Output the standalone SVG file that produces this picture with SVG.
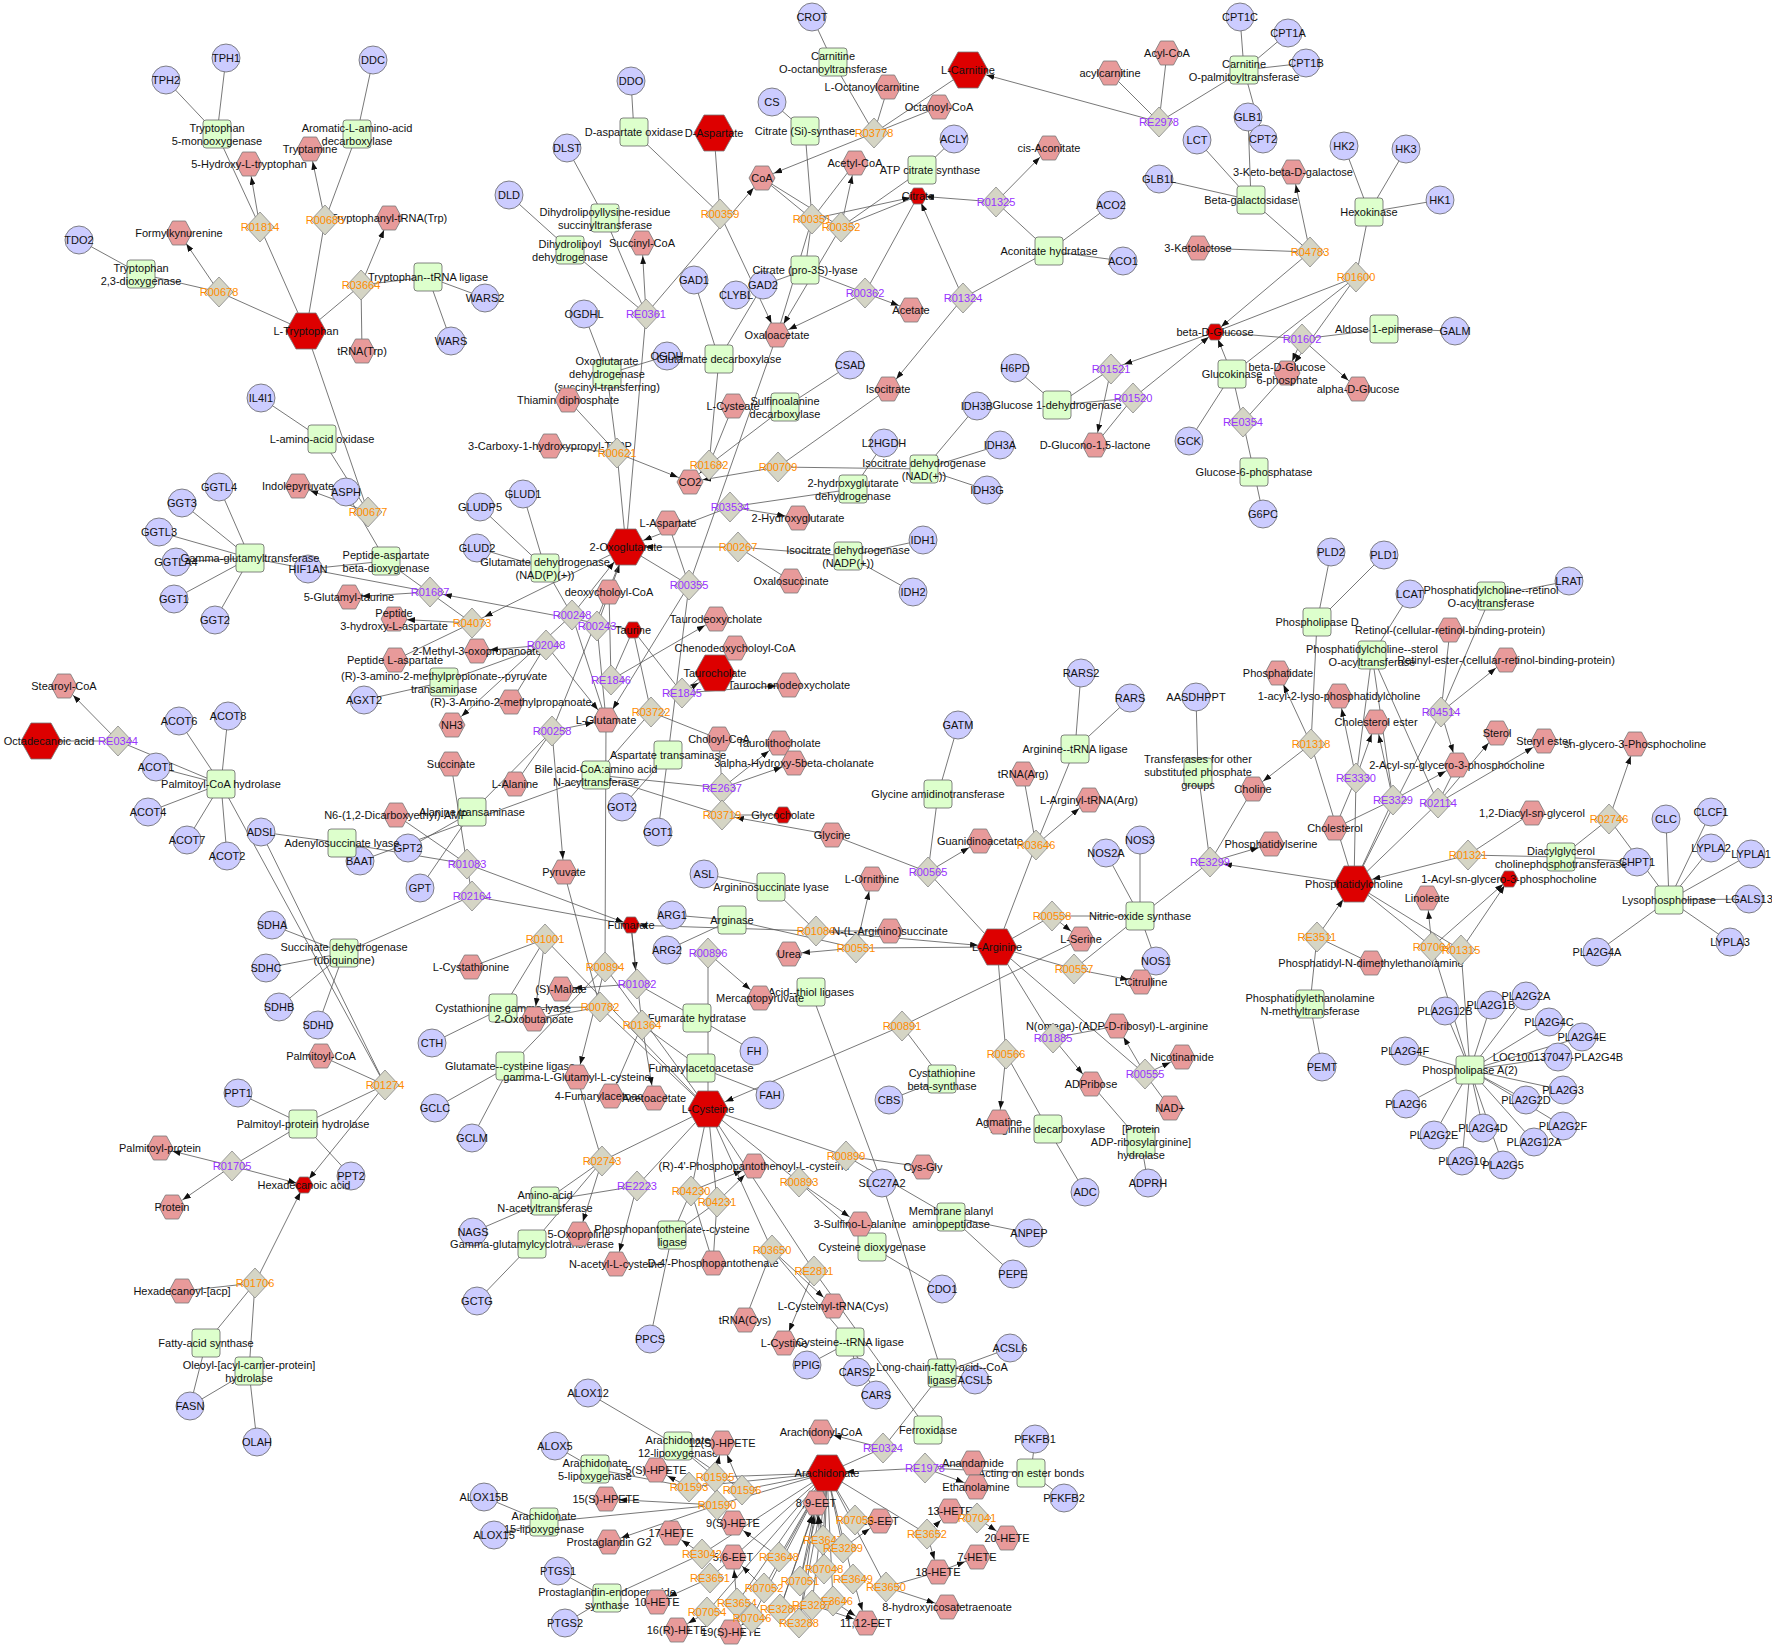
<svg xmlns="http://www.w3.org/2000/svg" xmlns:xlink="http://www.w3.org/1999/xlink" width="1772" height="1648" viewBox="0 0 1772 1648">
<style>
text{font-family:"Liberation Sans",Arial,sans-serif;font-size:11px;fill:#111;text-anchor:middle;dominant-baseline:central}
.ro{fill:#ff8c00}.rp{fill:#9933ff}
#E line{stroke:#555;stroke-width:0.8}
.a{marker-end:url(#ma)}.b{marker-end:url(#mb)}.c{marker-end:url(#mc)}.d{marker-end:url(#md)}
</style>
<defs>
<marker id="ma" markerUnits="userSpaceOnUse" markerWidth="8" markerHeight="6" refX="21" refY="3" orient="auto"><path d="M0,0L8,3L0,6z" fill="#111"/></marker>
<marker id="mb" markerUnits="userSpaceOnUse" markerWidth="8" markerHeight="6" refX="27" refY="3" orient="auto"><path d="M0,0L8,3L0,6z" fill="#111"/></marker>
<marker id="mc" markerUnits="userSpaceOnUse" markerWidth="8" markerHeight="6" refX="16" refY="3" orient="auto"><path d="M0,0L8,3L0,6z" fill="#111"/></marker>
<marker id="md" markerUnits="userSpaceOnUse" markerWidth="8" markerHeight="6" refX="22" refY="3" orient="auto"><path d="M0,0L8,3L0,6z" fill="#111"/></marker>
<circle id="g" r="14" fill="#ccccff" stroke="#666" stroke-width="0.8"/>
<rect id="e" x="-14" y="-14" width="28" height="28" rx="3" fill="#ddffcc" stroke="#666" stroke-width="0.8"/>
<polygon id="m" points="-13,0 -6.5,-12 6.5,-12 13,0 6.5,12 -6.5,12" fill="#e89a9a" stroke="#777" stroke-width="0.8"/>
<polygon id="B" points="-20,0 -10,-18 10,-18 20,0 10,18 -10,18" fill="#dd0000" stroke="#777" stroke-width="0.8"/>
<polygon id="t" points="-9,0 -4.5,-8 4.5,-8 9,0 4.5,8 -4.5,8" fill="#dd0000" stroke="#777" stroke-width="0.8"/>
<polygon id="r" points="0,-15 14,0 0,15 -14,0" fill="#d5d5c5" stroke="#888" stroke-width="0.8"/>
</defs>
<rect width="1772" height="1648" fill="#fff"/>
<g id="E">
<line x1="226" y1="58" x2="217" y2="134"/><line x1="166" y1="80" x2="217" y2="134"/><line x1="217" y1="134" x2="260" y2="227"/><line class="a" x1="260" y1="227" x2="249" y2="164"/><line x1="306" y1="331" x2="260" y2="227"/>
<line x1="373" y1="60" x2="357" y2="134"/><line x1="357" y1="134" x2="325" y2="220"/><line class="a" x1="325" y1="220" x2="310" y2="149"/><line x1="306" y1="331" x2="325" y2="220"/>
<line x1="79" y1="240" x2="141" y2="274"/><line x1="141" y1="274" x2="219" y2="292"/><line class="a" x1="219" y1="292" x2="179" y2="233"/><line x1="306" y1="331" x2="219" y2="292"/>
<line x1="306" y1="331" x2="361" y2="285"/><line x1="485" y1="298" x2="428" y2="277"/><line x1="451" y1="341" x2="428" y2="277"/><line x1="428" y1="277" x2="361" y2="285"/><line class="a" x1="361" y1="285" x2="389" y2="218"/><line x1="362" y1="351" x2="361" y2="285"/>
<line x1="306" y1="331" x2="368" y2="512"/><line x1="261" y1="398" x2="322" y2="439"/><line x1="322" y1="439" x2="368" y2="512"/><line class="a" x1="368" y1="512" x2="298" y2="486"/>
<line x1="346" y1="492" x2="386" y2="561"/><line x1="308" y1="569" x2="386" y2="561"/><line x1="386" y1="561" x2="472" y2="623"/><line class="a" x1="472" y1="623" x2="394" y2="619"/><line x1="395" y1="660" x2="472" y2="623"/><line class="d" x1="626" y1="547" x2="472" y2="623"/>
<line x1="219" y1="487" x2="250" y2="558"/><line x1="182" y1="503" x2="250" y2="558"/><line x1="159" y1="532" x2="250" y2="558"/><line x1="176" y1="562" x2="250" y2="558"/><line x1="174" y1="599" x2="250" y2="558"/><line x1="215" y1="620" x2="250" y2="558"/>
<line x1="250" y1="558" x2="430" y2="592"/><line class="a" x1="430" y1="592" x2="349" y2="597"/><line class="d" x1="633" y1="630" x2="430" y2="592"/>
<line class="a" x1="546" y1="645" x2="477" y2="651"/><line x1="511" y1="702" x2="546" y2="645"/><line x1="444" y1="682" x2="546" y2="645"/><line x1="364" y1="700" x2="444" y2="682"/><line class="a" x1="546" y1="645" x2="606" y2="720"/>
<line x1="480" y1="507" x2="545" y2="568"/><line x1="523" y1="494" x2="545" y2="568"/><line x1="477" y1="548" x2="545" y2="568"/><line x1="545" y1="568" x2="572" y2="615"/><line class="b" x1="572" y1="615" x2="626" y2="547"/><line class="a" x1="572" y1="615" x2="452" y2="725"/><line x1="606" y1="720" x2="572" y2="615"/>
<line class="b" x1="597" y1="626" x2="626" y2="547"/><line x1="606" y1="720" x2="597" y2="626"/>
<line x1="633" y1="630" x2="611" y2="680"/><line x1="609" y1="592" x2="611" y2="680"/><line class="a" x1="611" y1="680" x2="716" y2="619"/>
<line x1="633" y1="630" x2="682" y2="693"/><line class="b" x1="682" y1="693" x2="715" y2="673"/><line class="a" x1="682" y1="693" x2="789" y2="685"/><line x1="735" y1="648" x2="682" y2="693"/>
<line x1="633" y1="630" x2="651" y2="712"/><line x1="719" y1="739" x2="651" y2="712"/><line x1="596" y1="775" x2="651" y2="712"/>
<line x1="719" y1="739" x2="722" y2="788"/><line class="a" x1="722" y1="788" x2="779" y2="743"/><line class="a" x1="722" y1="788" x2="794" y2="763"/><line x1="596" y1="775" x2="722" y2="788"/>
<line x1="596" y1="775" x2="722" y2="815"/><line x1="783" y1="815" x2="722" y2="815"/><line class="d" x1="832" y1="835" x2="722" y2="815"/>
<line x1="626" y1="547" x2="689" y2="585"/><line x1="668" y1="523" x2="689" y2="585"/><line x1="668" y1="755" x2="689" y2="585"/><line x1="777" y1="335" x2="689" y2="585"/><line class="a" x1="689" y1="585" x2="606" y2="720"/>
<line x1="622" y1="807" x2="668" y2="755"/><line x1="658" y1="832" x2="668" y2="755"/>
<line x1="848" y1="556" x2="738" y2="547"/><line class="b" x1="738" y1="547" x2="626" y2="547"/><line x1="791" y1="581" x2="738" y2="547"/><line x1="923" y1="540" x2="848" y2="556"/><line x1="913" y1="592" x2="848" y2="556"/>
<line class="a" x1="730" y1="507" x2="798" y2="518"/><line x1="853" y1="489" x2="730" y2="507"/><line class="b" x1="730" y1="507" x2="626" y2="547"/><line x1="884" y1="443" x2="853" y2="489"/>
<line x1="924" y1="469" x2="778" y2="467"/><line class="a" x1="778" y1="467" x2="690" y2="482"/><line x1="888" y1="389" x2="778" y2="467"/>
<line x1="977" y1="406" x2="924" y2="469"/><line x1="1000" y1="445" x2="924" y2="469"/><line x1="987" y1="490" x2="924" y2="469"/>
<line x1="785" y1="407" x2="709" y2="465"/><line x1="733" y1="406" x2="709" y2="465"/><line class="a" x1="709" y1="465" x2="690" y2="482"/><line x1="850" y1="365" x2="785" y2="407"/><line x1="719" y1="359" x2="709" y2="465"/>
<line x1="568" y1="400" x2="617" y2="453"/><line x1="550" y1="446" x2="617" y2="453"/><line class="a" x1="617" y1="453" x2="690" y2="482"/><line x1="607" y1="374" x2="617" y2="453"/><line x1="626" y1="547" x2="617" y2="453"/>
<line x1="584" y1="314" x2="607" y2="374"/><line x1="667" y1="356" x2="607" y2="374"/>
<line x1="567" y1="148" x2="605" y2="218"/><line x1="509" y1="195" x2="570" y2="250"/><line x1="570" y1="250" x2="646" y2="314"/><line x1="605" y1="218" x2="646" y2="314"/><line class="a" x1="646" y1="314" x2="642" y2="243"/><line class="a" x1="646" y1="314" x2="762" y2="178"/><line x1="626" y1="547" x2="646" y2="314"/>
<line x1="631" y1="81" x2="634" y2="132"/><line x1="634" y1="132" x2="720" y2="214"/><line x1="714" y1="133" x2="720" y2="214"/><line class="a" x1="720" y1="214" x2="777" y2="335"/>
<line x1="772" y1="102" x2="805" y2="131"/><line x1="805" y1="131" x2="812" y2="219"/><line x1="762" y1="178" x2="812" y2="219"/><line x1="855" y1="163" x2="812" y2="219"/><line x1="777" y1="335" x2="812" y2="219"/><line class="c" x1="812" y1="219" x2="918" y2="196"/>
<line x1="922" y1="170" x2="841" y2="227"/><line x1="954" y1="139" x2="922" y2="170"/><line class="a" x1="841" y1="227" x2="855" y2="163"/><line class="a" x1="841" y1="227" x2="777" y2="335"/><line x1="918" y1="196" x2="841" y2="227"/><line x1="762" y1="178" x2="841" y2="227"/>
<line x1="805" y1="270" x2="865" y2="293"/><line x1="918" y1="196" x2="865" y2="293"/><line class="a" x1="865" y1="293" x2="911" y2="310"/><line class="a" x1="865" y1="293" x2="777" y2="335"/><line x1="736" y1="295" x2="805" y2="270"/><line x1="805" y1="270" x2="812" y2="219"/>
<line x1="694" y1="280" x2="719" y2="359"/><line x1="763" y1="285" x2="719" y2="359"/>
<line class="c" x1="996" y1="202" x2="918" y2="196"/><line class="a" x1="996" y1="202" x2="1049" y2="148"/><line x1="1049" y1="251" x2="996" y2="202"/>
<line x1="1049" y1="251" x2="963" y2="298"/><line class="c" x1="963" y1="298" x2="918" y2="196"/><line class="a" x1="963" y1="298" x2="888" y2="389"/><line x1="1111" y1="205" x2="1049" y2="251"/><line x1="1123" y1="261" x2="1049" y2="251"/>
<line x1="833" y1="62" x2="874" y2="133"/><line x1="812" y1="17" x2="833" y2="62"/><line x1="968" y1="70" x2="874" y2="133"/><line class="a" x1="874" y1="133" x2="762" y2="178"/><line x1="888" y1="87" x2="874" y2="133"/><line x1="939" y1="107" x2="874" y2="133"/>
<line class="b" x1="1159" y1="122" x2="968" y2="70"/><line x1="1110" y1="73" x2="1159" y2="122"/><line x1="1167" y1="53" x2="1159" y2="122"/><line x1="1244" y1="70" x2="1159" y2="122"/>
<line x1="1240" y1="17" x2="1244" y2="70"/><line x1="1288" y1="33" x2="1244" y2="70"/><line x1="1306" y1="63" x2="1244" y2="70"/><line x1="1263" y1="139" x2="1244" y2="70"/>
<line x1="1248" y1="117" x2="1251" y2="200"/><line x1="1197" y1="140" x2="1251" y2="200"/><line x1="1159" y1="179" x2="1251" y2="200"/>
<line x1="1251" y1="200" x2="1310" y2="252"/><line class="a" x1="1310" y1="252" x2="1293" y2="172"/><line x1="1198" y1="248" x2="1310" y2="252"/><line class="c" x1="1310" y1="252" x2="1215" y2="332"/>
<line x1="1344" y1="146" x2="1369" y2="212"/><line x1="1406" y1="149" x2="1369" y2="212"/><line x1="1440" y1="200" x2="1369" y2="212"/>
<line x1="1369" y1="212" x2="1356" y2="277"/><line x1="1215" y1="332" x2="1356" y2="277"/><line class="a" x1="1356" y1="277" x2="1287" y2="373"/><line x1="1232" y1="374" x2="1356" y2="277"/>
<line x1="1215" y1="332" x2="1302" y2="339"/><line class="a" x1="1302" y1="339" x2="1358" y2="389"/><line x1="1384" y1="329" x2="1302" y2="339"/><line x1="1455" y1="331" x2="1384" y2="329"/><line class="a" x1="1302" y1="339" x2="1287" y2="373"/>
<line x1="1057" y1="405" x2="1111" y2="369"/><line x1="1015" y1="368" x2="1057" y2="405"/><line class="d" x1="1215" y1="332" x2="1111" y2="369"/><line class="a" x1="1111" y1="369" x2="1095" y2="445"/>
<line x1="1057" y1="405" x2="1133" y2="398"/><line class="c" x1="1133" y1="398" x2="1215" y2="332"/><line x1="1095" y1="445" x2="1133" y2="398"/>
<line x1="1232" y1="374" x2="1243" y2="422"/><line x1="1254" y1="472" x2="1243" y2="422"/><line x1="1287" y1="373" x2="1243" y2="422"/><line x1="1263" y1="514" x2="1254" y2="472"/><line x1="1189" y1="441" x2="1232" y2="374"/><line class="c" x1="1232" y1="374" x2="1215" y2="332"/>
<line x1="1331" y1="552" x2="1317" y2="622"/><line x1="1384" y1="555" x2="1317" y2="622"/><line x1="1317" y1="622" x2="1311" y2="744"/><line class="a" x1="1311" y1="744" x2="1278" y2="673"/><line class="a" x1="1311" y1="744" x2="1253" y2="789"/><line x1="1354" y1="884" x2="1311" y2="744"/>
<line x1="1410" y1="594" x2="1372" y2="655"/><line x1="1372" y1="655" x2="1356" y2="778"/><line x1="1372" y1="655" x2="1393" y2="800"/><line x1="1372" y1="655" x2="1438" y2="803"/>
<line x1="1569" y1="581" x2="1491" y2="596"/><line x1="1491" y1="596" x2="1441" y2="712"/>
<line x1="1450" y1="630" x2="1441" y2="712"/><line class="a" x1="1441" y1="712" x2="1506" y2="660"/><line class="a" x1="1441" y1="712" x2="1457" y2="765"/><line x1="1354" y1="884" x2="1441" y2="712"/>
<line class="a" x1="1356" y1="778" x2="1339" y2="696"/><line class="a" x1="1356" y1="778" x2="1376" y2="722"/><line x1="1335" y1="828" x2="1356" y2="778"/><line x1="1354" y1="884" x2="1356" y2="778"/>
<line x1="1335" y1="828" x2="1393" y2="800"/><line class="a" x1="1393" y1="800" x2="1376" y2="722"/><line class="a" x1="1393" y1="800" x2="1457" y2="765"/><line x1="1354" y1="884" x2="1393" y2="800"/>
<line x1="1457" y1="765" x2="1438" y2="803"/><line class="a" x1="1438" y1="803" x2="1497" y2="733"/><line class="a" x1="1438" y1="803" x2="1544" y2="741"/><line x1="1354" y1="884" x2="1438" y2="803"/>
<line class="a" x1="1609" y1="819" x2="1635" y2="744"/><line x1="1561" y1="857" x2="1609" y2="819"/><line x1="1669" y1="900" x2="1609" y2="819"/>
<line class="b" x1="1468" y1="855" x2="1354" y2="884"/><line x1="1532" y1="813" x2="1468" y2="855"/><line x1="1561" y1="857" x2="1468" y2="855"/><line x1="1637" y1="862" x2="1561" y2="857"/>
<line x1="1666" y1="819" x2="1669" y2="900"/><line x1="1711" y1="812" x2="1669" y2="900"/><line x1="1711" y1="848" x2="1669" y2="900"/><line x1="1751" y1="854" x2="1669" y2="900"/><line x1="1749" y1="899" x2="1669" y2="900"/><line x1="1730" y1="942" x2="1669" y2="900"/><line x1="1597" y1="952" x2="1669" y2="900"/>
<line class="a" x1="1210" y1="862" x2="1271" y2="844"/><line class="d" x1="1354" y1="884" x2="1210" y2="862"/><line x1="1253" y1="789" x2="1210" y2="862"/><line x1="1198" y1="772" x2="1210" y2="862"/><line x1="1196" y1="697" x2="1198" y2="772"/><line x1="1140" y1="916" x2="1210" y2="862"/>
<line class="b" x1="1317" y1="937" x2="1354" y2="884"/><line x1="1371" y1="963" x2="1317" y2="937"/><line x1="1310" y1="1004" x2="1317" y2="937"/><line x1="1322" y1="1067" x2="1310" y2="1004"/>
<line x1="1354" y1="884" x2="1432" y2="947"/><line class="a" x1="1432" y1="947" x2="1427" y2="898"/><line class="c" x1="1432" y1="947" x2="1509" y2="879"/><line x1="1470" y1="1070" x2="1432" y2="947"/>
<line x1="1354" y1="884" x2="1461" y2="950"/><line class="c" x1="1461" y1="950" x2="1509" y2="879"/><line x1="1470" y1="1070" x2="1461" y2="950"/>
<line x1="1445" y1="1011" x2="1470" y2="1070"/><line x1="1491" y1="1005" x2="1470" y2="1070"/><line x1="1526" y1="996" x2="1470" y2="1070"/><line x1="1549" y1="1022" x2="1470" y2="1070"/><line x1="1582" y1="1037" x2="1470" y2="1070"/><line x1="1558" y1="1057" x2="1470" y2="1070"/><line x1="1405" y1="1051" x2="1470" y2="1070"/><line x1="1563" y1="1090" x2="1470" y2="1070"/><line x1="1526" y1="1100" x2="1470" y2="1070"/><line x1="1406" y1="1104" x2="1470" y2="1070"/><line x1="1563" y1="1126" x2="1470" y2="1070"/><line x1="1434" y1="1135" x2="1470" y2="1070"/><line x1="1483" y1="1128" x2="1470" y2="1070"/><line x1="1534" y1="1142" x2="1470" y2="1070"/><line x1="1462" y1="1161" x2="1470" y2="1070"/><line x1="1503" y1="1165" x2="1470" y2="1070"/>
<line x1="997" y1="947" x2="928" y2="872"/><line class="a" x1="928" y1="872" x2="980" y2="841"/><line x1="832" y1="835" x2="928" y2="872"/><line x1="938" y1="794" x2="928" y2="872"/><line x1="958" y1="725" x2="938" y2="794"/>
<line x1="997" y1="947" x2="1036" y2="845"/><line x1="1075" y1="749" x2="1036" y2="845"/><line x1="1081" y1="673" x2="1075" y2="749"/><line x1="1130" y1="698" x2="1075" y2="749"/><line x1="1023" y1="774" x2="1036" y2="845"/><line class="a" x1="1036" y1="845" x2="1089" y2="800"/>
<line x1="997" y1="947" x2="1052" y2="916"/><line x1="1140" y1="916" x2="1052" y2="916"/><line class="a" x1="1052" y1="916" x2="1081" y2="939"/>
<line x1="997" y1="947" x2="1074" y2="969"/><line x1="1140" y1="916" x2="1074" y2="969"/><line class="a" x1="1074" y1="969" x2="1141" y2="982"/>
<line x1="1106" y1="853" x2="1140" y2="916"/><line x1="1140" y1="840" x2="1140" y2="916"/><line x1="1156" y1="961" x2="1140" y2="916"/>
<line x1="1081" y1="939" x2="902" y2="1026"/><line x1="942" y1="1079" x2="902" y2="1026"/><line class="b" x1="902" y1="1026" x2="708" y2="1109"/><line x1="889" y1="1100" x2="942" y2="1079"/>
<line x1="771" y1="887" x2="816" y2="931"/><line x1="704" y1="874" x2="771" y2="887"/><line class="c" x1="816" y1="931" x2="631" y2="925"/><line x1="890" y1="931" x2="816" y2="931"/><line class="b" x1="816" y1="931" x2="997" y2="947"/>
<line x1="732" y1="920" x2="856" y2="948"/><line x1="672" y1="915" x2="732" y2="920"/><line x1="667" y1="950" x2="732" y2="920"/><line x1="997" y1="947" x2="856" y2="948"/><line class="a" x1="856" y1="948" x2="789" y2="954"/><line class="a" x1="856" y1="948" x2="872" y2="879"/>
<line x1="997" y1="947" x2="1006" y2="1054"/><line class="a" x1="1006" y1="1054" x2="999" y2="1122"/><line x1="1048" y1="1129" x2="1006" y2="1054"/><line x1="1085" y1="1192" x2="1048" y2="1129"/>
<line x1="997" y1="947" x2="1053" y2="1038"/><line x1="1117" y1="1026" x2="1053" y2="1038"/><line class="a" x1="1053" y1="1038" x2="1091" y2="1084"/><line x1="1091" y1="1084" x2="1141" y2="1142"/><line x1="1148" y1="1183" x2="1141" y2="1142"/>
<line x1="997" y1="947" x2="1145" y2="1074"/><line class="a" x1="1145" y1="1074" x2="1117" y2="1026"/><line class="a" x1="1145" y1="1074" x2="1182" y2="1057"/><line x1="1170" y1="1108" x2="1145" y2="1074"/>
<line x1="708" y1="1109" x2="708" y2="953"/><line class="a" x1="708" y1="953" x2="760" y2="998"/>
<line class="d" x1="631" y1="925" x2="637" y2="984"/><line class="a" x1="637" y1="984" x2="561" y2="989"/><line x1="697" y1="1018" x2="637" y2="984"/><line x1="754" y1="1051" x2="697" y2="1018"/>
<line x1="631" y1="925" x2="472" y2="896"/><line x1="344" y1="953" x2="472" y2="896"/><line x1="451" y1="764" x2="472" y2="896"/>
<line x1="272" y1="925" x2="344" y2="953"/><line x1="266" y1="968" x2="344" y2="953"/><line x1="279" y1="1007" x2="344" y2="953"/><line x1="318" y1="1025" x2="344" y2="953"/>
<line x1="342" y1="843" x2="467" y2="864"/><line class="c" x1="467" y1="864" x2="631" y2="925"/><line x1="396" y1="815" x2="467" y2="864"/><line x1="261" y1="832" x2="342" y2="843"/>
<line x1="360" y1="861" x2="596" y2="775"/><line x1="408" y1="848" x2="472" y2="812"/><line x1="420" y1="888" x2="472" y2="812"/>
<line x1="472" y1="812" x2="552" y2="731"/><line class="a" x1="552" y1="731" x2="564" y2="872"/><line class="a" x1="552" y1="731" x2="606" y2="720"/><line x1="515" y1="784" x2="552" y2="731"/><line x1="626" y1="547" x2="552" y2="731"/>
<line x1="606" y1="720" x2="605" y2="967"/><line x1="510" y1="1066" x2="605" y2="967"/><line class="a" x1="605" y1="967" x2="577" y2="1077"/><line x1="708" y1="1109" x2="605" y2="967"/>
<line x1="503" y1="1008" x2="600" y2="1007"/><line x1="534" y1="1019" x2="600" y2="1007"/><line x1="708" y1="1109" x2="600" y2="1007"/><line x1="564" y1="872" x2="600" y2="1007"/>
<line x1="471" y1="967" x2="545" y2="939"/><line x1="503" y1="1008" x2="545" y2="939"/><line class="a" x1="545" y1="939" x2="534" y2="1019"/><line x1="708" y1="1109" x2="545" y2="939"/>
<line x1="701" y1="1068" x2="642" y2="1025"/><line x1="611" y1="1096" x2="642" y2="1025"/><line class="a" x1="642" y1="1025" x2="654" y2="1098"/><line x1="631" y1="925" x2="642" y2="1025"/>
<line x1="432" y1="1043" x2="503" y2="1008"/><line x1="435" y1="1108" x2="510" y2="1066"/><line x1="472" y1="1138" x2="510" y2="1066"/><line x1="770" y1="1095" x2="701" y2="1068"/>
<line x1="708" y1="1109" x2="602" y2="1161"/><line x1="545" y1="1201" x2="602" y2="1161"/><line class="a" x1="602" y1="1161" x2="579" y2="1234"/><line x1="532" y1="1244" x2="602" y2="1161"/><line x1="577" y1="1077" x2="602" y2="1161"/>
<line x1="708" y1="1109" x2="637" y2="1186"/><line x1="545" y1="1201" x2="637" y2="1186"/><line class="a" x1="637" y1="1186" x2="616" y2="1264"/>
<line x1="473" y1="1232" x2="545" y2="1201"/><line x1="477" y1="1301" x2="532" y2="1244"/>
<line x1="708" y1="1109" x2="691" y2="1191"/><line x1="672" y1="1235" x2="691" y2="1191"/><line x1="713" y1="1263" x2="691" y2="1191"/><line class="a" x1="691" y1="1191" x2="754" y2="1166"/>
<line x1="708" y1="1109" x2="717" y2="1202"/><line x1="672" y1="1235" x2="717" y2="1202"/><line x1="713" y1="1263" x2="717" y2="1202"/><line class="a" x1="717" y1="1202" x2="754" y2="1166"/>
<line x1="650" y1="1339" x2="672" y2="1235"/>
<line x1="708" y1="1109" x2="772" y2="1250"/><line x1="850" y1="1342" x2="772" y2="1250"/><line x1="745" y1="1320" x2="772" y2="1250"/><line class="a" x1="772" y1="1250" x2="833" y2="1306"/>
<line x1="857" y1="1372" x2="850" y2="1342"/><line x1="876" y1="1395" x2="850" y2="1342"/><line x1="807" y1="1365" x2="850" y2="1342"/>
<line x1="708" y1="1109" x2="814" y2="1271"/><line class="a" x1="814" y1="1271" x2="784" y2="1343"/><line x1="928" y1="1430" x2="814" y2="1271"/>
<line x1="708" y1="1109" x2="799" y2="1182"/><line class="a" x1="799" y1="1182" x2="860" y2="1224"/><line x1="872" y1="1247" x2="799" y2="1182"/><line x1="942" y1="1289" x2="872" y2="1247"/>
<line x1="708" y1="1109" x2="846" y2="1156"/><line x1="923" y1="1167" x2="846" y2="1156"/><line x1="951" y1="1217" x2="846" y2="1156"/><line x1="1029" y1="1233" x2="951" y2="1217"/><line x1="1013" y1="1274" x2="951" y2="1217"/>
<line x1="882" y1="1183" x2="942" y2="1373"/><line x1="882" y1="1183" x2="811" y2="992"/><line x1="1010" y1="1348" x2="942" y2="1373"/><line x1="975" y1="1380" x2="942" y2="1373"/><line x1="942" y1="1373" x2="883" y2="1448"/>
<line x1="321" y1="1056" x2="385" y2="1085"/><line x1="303" y1="1124" x2="385" y2="1085"/><line class="c" x1="385" y1="1085" x2="304" y2="1185"/><line x1="221" y1="784" x2="385" y2="1085"/><line x1="261" y1="832" x2="385" y2="1085"/>
<line x1="303" y1="1124" x2="232" y2="1166"/><line class="a" x1="232" y1="1166" x2="160" y2="1148"/><line class="a" x1="232" y1="1166" x2="172" y2="1207"/><line class="c" x1="232" y1="1166" x2="304" y2="1185"/>
<line x1="238" y1="1093" x2="303" y2="1124"/><line x1="351" y1="1176" x2="303" y2="1124"/>
<line x1="182" y1="1291" x2="255" y2="1283"/><line x1="206" y1="1343" x2="255" y2="1283"/><line x1="249" y1="1371" x2="255" y2="1283"/><line class="c" x1="255" y1="1283" x2="304" y2="1185"/>
<line x1="190" y1="1406" x2="206" y2="1343"/><line x1="190" y1="1406" x2="249" y2="1371"/><line x1="257" y1="1442" x2="249" y2="1371"/>
<line x1="41" y1="741" x2="118" y2="741"/><line class="a" x1="118" y1="741" x2="64" y2="686"/><line x1="221" y1="784" x2="118" y2="741"/>
<line x1="179" y1="721" x2="221" y2="784"/><line x1="228" y1="716" x2="221" y2="784"/><line x1="156" y1="767" x2="221" y2="784"/><line x1="148" y1="812" x2="221" y2="784"/><line x1="187" y1="840" x2="221" y2="784"/><line x1="227" y1="856" x2="221" y2="784"/>
<line x1="827" y1="1473" x2="883" y2="1448"/><line class="a" x1="883" y1="1448" x2="821" y2="1432"/>
<line class="b" x1="925" y1="1468" x2="827" y2="1473"/><line x1="973" y1="1463" x2="925" y2="1468"/><line class="a" x1="925" y1="1468" x2="976" y2="1487"/><line x1="1031" y1="1473" x2="925" y2="1468"/><line x1="1035" y1="1439" x2="1031" y2="1473"/><line x1="1064" y1="1498" x2="1031" y2="1473"/>
<line x1="827" y1="1473" x2="715" y2="1477"/><line class="a" x1="715" y1="1477" x2="722" y2="1443"/><line x1="678" y1="1446" x2="715" y2="1477"/><line x1="588" y1="1393" x2="678" y2="1446"/>
<line x1="827" y1="1473" x2="742" y2="1490"/><line class="a" x1="742" y1="1490" x2="722" y2="1443"/><line x1="678" y1="1446" x2="742" y2="1490"/>
<line x1="827" y1="1473" x2="689" y2="1487"/><line class="a" x1="689" y1="1487" x2="656" y2="1470"/><line x1="595" y1="1469" x2="689" y2="1487"/><line x1="555" y1="1446" x2="595" y2="1469"/>
<line x1="827" y1="1473" x2="717" y2="1505"/><line class="a" x1="717" y1="1505" x2="606" y2="1499"/><line x1="544" y1="1522" x2="717" y2="1505"/><line x1="484" y1="1497" x2="544" y2="1522"/><line x1="494" y1="1535" x2="544" y2="1522"/>
<line x1="827" y1="1473" x2="702" y2="1554"/><line class="a" x1="702" y1="1554" x2="671" y2="1533"/><line x1="607" y1="1598" x2="702" y2="1554"/><line x1="558" y1="1571" x2="607" y2="1598"/><line x1="565" y1="1623" x2="607" y2="1598"/><line class="a" x1="717" y1="1505" x2="609" y2="1542"/>
<line x1="827" y1="1473" x2="710" y2="1578"/><line class="a" x1="710" y1="1578" x2="657" y2="1602"/>
<line x1="827" y1="1473" x2="707" y2="1612"/><line class="a" x1="707" y1="1612" x2="677" y2="1630"/>
<line x1="827" y1="1473" x2="752" y2="1618"/><line class="a" x1="752" y1="1618" x2="731" y2="1632"/>
<line x1="827" y1="1473" x2="737" y2="1603"/><line class="a" x1="737" y1="1603" x2="733" y2="1557"/>
<line x1="827" y1="1473" x2="764" y2="1588"/><line class="a" x1="764" y1="1588" x2="733" y2="1557"/>
<line x1="827" y1="1473" x2="779" y2="1557"/><line class="a" x1="779" y1="1557" x2="733" y2="1523"/>
<line x1="827" y1="1473" x2="780" y2="1609"/><line class="a" x1="780" y1="1609" x2="816" y2="1503"/>
<line x1="827" y1="1473" x2="800" y2="1581"/><line class="a" x1="800" y1="1581" x2="816" y2="1503"/>
<line x1="827" y1="1473" x2="799" y2="1623"/><line class="a" x1="799" y1="1623" x2="816" y2="1503"/>
<line x1="827" y1="1473" x2="812" y2="1605"/><line class="a" x1="812" y1="1605" x2="866" y2="1623"/>
<line x1="827" y1="1473" x2="824" y2="1569"/><line class="a" x1="824" y1="1569" x2="816" y2="1503"/>
<line x1="827" y1="1473" x2="823" y2="1540"/><line class="a" x1="823" y1="1540" x2="816" y2="1503"/>
<line x1="827" y1="1473" x2="833" y2="1601"/><line class="a" x1="833" y1="1601" x2="866" y2="1623"/>
<line x1="827" y1="1473" x2="843" y2="1548"/><line class="a" x1="843" y1="1548" x2="880" y2="1521"/>
<line x1="827" y1="1473" x2="853" y2="1579"/><line class="a" x1="853" y1="1579" x2="866" y2="1623"/>
<line x1="827" y1="1473" x2="855" y2="1520"/><line class="a" x1="855" y1="1520" x2="880" y2="1521"/>
<line x1="827" y1="1473" x2="886" y2="1587"/><line class="a" x1="886" y1="1587" x2="947" y2="1607"/><line x1="886" y1="1587" x2="938" y2="1572"/>
<line x1="827" y1="1473" x2="927" y2="1534"/><line class="a" x1="927" y1="1534" x2="950" y2="1511"/><line class="a" x1="927" y1="1534" x2="938" y2="1572"/>
<line x1="950" y1="1511" x2="977" y2="1518"/><line class="a" x1="977" y1="1518" x2="1007" y2="1538"/><line class="a" x1="938" y1="1572" x2="977" y2="1557"/>
</g>
<g id="genes">
<g id="CROT"><use href="#g" x="812" y="17"/><text x="812" y="17">CROT</text></g>
<g id="TPH1"><use href="#g" x="226" y="58"/><text x="226" y="58">TPH1</text></g>
<g id="TPH2"><use href="#g" x="166" y="80"/><text x="166" y="80">TPH2</text></g>
<g id="DDC"><use href="#g" x="373" y="60"/><text x="373" y="60">DDC</text></g>
<g id="TDO2"><use href="#g" x="79" y="240"/><text x="79" y="240">TDO2</text></g>
<g id="WARS2"><use href="#g" x="485" y="298"/><text x="485" y="298">WARS2</text></g>
<g id="WARS"><use href="#g" x="451" y="341"/><text x="451" y="341">WARS</text></g>
<g id="DDO"><use href="#g" x="631" y="81"/><text x="631" y="81">DDO</text></g>
<g id="CS"><use href="#g" x="772" y="102"/><text x="772" y="102">CS</text></g>
<g id="DLST"><use href="#g" x="567" y="148"/><text x="567" y="148">DLST</text></g>
<g id="DLD"><use href="#g" x="509" y="195"/><text x="509" y="195">DLD</text></g>
<g id="GAD1"><use href="#g" x="694" y="280"/><text x="694" y="280">GAD1</text></g>
<g id="CLYBL"><use href="#g" x="736" y="295"/><text x="736" y="295">CLYBL</text></g>
<g id="GAD2"><use href="#g" x="763" y="285"/><text x="763" y="285">GAD2</text></g>
<g id="OGDHL"><use href="#g" x="584" y="314"/><text x="584" y="314">OGDHL</text></g>
<g id="OGDH"><use href="#g" x="667" y="356"/><text x="667" y="356">OGDH</text></g>
<g id="CSAD"><use href="#g" x="850" y="365"/><text x="850" y="365">CSAD</text></g>
<g id="IL4I1"><use href="#g" x="261" y="398"/><text x="261" y="398">IL4I1</text></g>
<g id="ASPH"><use href="#g" x="346" y="492"/><text x="346" y="492">ASPH</text></g>
<g id="GGTL4"><use href="#g" x="219" y="487"/><text x="219" y="487">GGTL4</text></g>
<g id="GGT3"><use href="#g" x="182" y="503"/><text x="182" y="503">GGT3</text></g>
<g id="GGTL3"><use href="#g" x="159" y="532"/><text x="159" y="532">GGTL3</text></g>
<g id="GGTLA4"><use href="#g" x="176" y="562"/><text x="176" y="562">GGTLA4</text></g>
<g id="GGT1"><use href="#g" x="174" y="599"/><text x="174" y="599">GGT1</text></g>
<g id="GGT2"><use href="#g" x="215" y="620"/><text x="215" y="620">GGT2</text></g>
<g id="HIF1AN"><use href="#g" x="308" y="569"/><text x="308" y="569">HIF1AN</text></g>
<g id="GLUDP5"><use href="#g" x="480" y="507"/><text x="480" y="507">GLUDP5</text></g>
<g id="GLUD1"><use href="#g" x="523" y="494"/><text x="523" y="494">GLUD1</text></g>
<g id="GLUD2"><use href="#g" x="477" y="548"/><text x="477" y="548">GLUD2</text></g>
<g id="AGXT2"><use href="#g" x="364" y="700"/><text x="364" y="700">AGXT2</text></g>
<g id="ACOT6"><use href="#g" x="179" y="721"/><text x="179" y="721">ACOT6</text></g>
<g id="ACOT8"><use href="#g" x="228" y="716"/><text x="228" y="716">ACOT8</text></g>
<g id="ACOT1"><use href="#g" x="156" y="767"/><text x="156" y="767">ACOT1</text></g>
<g id="ACOT4"><use href="#g" x="148" y="812"/><text x="148" y="812">ACOT4</text></g>
<g id="ACOT7"><use href="#g" x="187" y="840"/><text x="187" y="840">ACOT7</text></g>
<g id="ACOT2"><use href="#g" x="227" y="856"/><text x="227" y="856">ACOT2</text></g>
<g id="GOT2"><use href="#g" x="622" y="807"/><text x="622" y="807">GOT2</text></g>
<g id="GOT1"><use href="#g" x="658" y="832"/><text x="658" y="832">GOT1</text></g>
<g id="CPT1C"><use href="#g" x="1240" y="17"/><text x="1240" y="17">CPT1C</text></g>
<g id="CPT1A"><use href="#g" x="1288" y="33"/><text x="1288" y="33">CPT1A</text></g>
<g id="CPT1B"><use href="#g" x="1306" y="63"/><text x="1306" y="63">CPT1B</text></g>
<g id="GLB1"><use href="#g" x="1248" y="117"/><text x="1248" y="117">GLB1</text></g>
<g id="CPT2"><use href="#g" x="1263" y="139"/><text x="1263" y="139">CPT2</text></g>
<g id="LCT"><use href="#g" x="1197" y="140"/><text x="1197" y="140">LCT</text></g>
<g id="GLB1L"><use href="#g" x="1159" y="179"/><text x="1159" y="179">GLB1L</text></g>
<g id="HK2"><use href="#g" x="1344" y="146"/><text x="1344" y="146">HK2</text></g>
<g id="HK3"><use href="#g" x="1406" y="149"/><text x="1406" y="149">HK3</text></g>
<g id="HK1"><use href="#g" x="1440" y="200"/><text x="1440" y="200">HK1</text></g>
<g id="ACLY"><use href="#g" x="954" y="139"/><text x="954" y="139">ACLY</text></g>
<g id="ACO2"><use href="#g" x="1111" y="205"/><text x="1111" y="205">ACO2</text></g>
<g id="ACO1"><use href="#g" x="1123" y="261"/><text x="1123" y="261">ACO1</text></g>
<g id="GALM"><use href="#g" x="1455" y="331"/><text x="1455" y="331">GALM</text></g>
<g id="H6PD"><use href="#g" x="1015" y="368"/><text x="1015" y="368">H6PD</text></g>
<g id="GCK"><use href="#g" x="1189" y="441"/><text x="1189" y="441">GCK</text></g>
<g id="IDH3B"><use href="#g" x="977" y="406"/><text x="977" y="406">IDH3B</text></g>
<g id="IDH3A"><use href="#g" x="1000" y="445"/><text x="1000" y="445">IDH3A</text></g>
<g id="IDH3G"><use href="#g" x="987" y="490"/><text x="987" y="490">IDH3G</text></g>
<g id="L2HGDH"><use href="#g" x="884" y="443"/><text x="884" y="443">L2HGDH</text></g>
<g id="G6PC"><use href="#g" x="1263" y="514"/><text x="1263" y="514">G6PC</text></g>
<g id="IDH1"><use href="#g" x="923" y="540"/><text x="923" y="540">IDH1</text></g>
<g id="IDH2"><use href="#g" x="913" y="592"/><text x="913" y="592">IDH2</text></g>
<g id="PLD2"><use href="#g" x="1331" y="552"/><text x="1331" y="552">PLD2</text></g>
<g id="PLD1"><use href="#g" x="1384" y="555"/><text x="1384" y="555">PLD1</text></g>
<g id="LCAT"><use href="#g" x="1410" y="594"/><text x="1410" y="594">LCAT</text></g>
<g id="LRAT"><use href="#g" x="1569" y="581"/><text x="1569" y="581">LRAT</text></g>
<g id="RARS2"><use href="#g" x="1081" y="673"/><text x="1081" y="673">RARS2</text></g>
<g id="RARS"><use href="#g" x="1130" y="698"/><text x="1130" y="698">RARS</text></g>
<g id="AASDHPPT"><use href="#g" x="1196" y="697"/><text x="1196" y="697">AASDHPPT</text></g>
<g id="GATM"><use href="#g" x="958" y="725"/><text x="958" y="725">GATM</text></g>
<g id="CLC"><use href="#g" x="1666" y="819"/><text x="1666" y="819">CLC</text></g>
<g id="CLCF1"><use href="#g" x="1711" y="812"/><text x="1711" y="812">CLCF1</text></g>
<g id="LYPLA2"><use href="#g" x="1711" y="848"/><text x="1711" y="848">LYPLA2</text></g>
<g id="LYPLA1"><use href="#g" x="1751" y="854"/><text x="1751" y="854">LYPLA1</text></g>
<g id="LGALS13"><use href="#g" x="1749" y="899"/><text x="1749" y="899">LGALS13</text></g>
<g id="LYPLA3"><use href="#g" x="1730" y="942"/><text x="1730" y="942">LYPLA3</text></g>
<g id="CHPT1"><use href="#g" x="1637" y="862"/><text x="1637" y="862">CHPT1</text></g>
<g id="NOS2A"><use href="#g" x="1106" y="853"/><text x="1106" y="853">NOS2A</text></g>
<g id="NOS3"><use href="#g" x="1140" y="840"/><text x="1140" y="840">NOS3</text></g>
<g id="NOS1"><use href="#g" x="1156" y="961"/><text x="1156" y="961">NOS1</text></g>
<g id="PLA2G4A"><use href="#g" x="1597" y="952"/><text x="1597" y="952">PLA2G4A</text></g>
<g id="CBS"><use href="#g" x="889" y="1100"/><text x="889" y="1100">CBS</text></g>
<g id="ADC"><use href="#g" x="1085" y="1192"/><text x="1085" y="1192">ADC</text></g>
<g id="ADPRH"><use href="#g" x="1148" y="1183"/><text x="1148" y="1183">ADPRH</text></g>
<g id="SLC27A2"><use href="#g" x="882" y="1183"/><text x="882" y="1183">SLC27A2</text></g>
<g id="ANPEP"><use href="#g" x="1029" y="1233"/><text x="1029" y="1233">ANPEP</text></g>
<g id="PEPE"><use href="#g" x="1013" y="1274"/><text x="1013" y="1274">PEPE</text></g>
<g id="CDO1"><use href="#g" x="942" y="1289"/><text x="942" y="1289">CDO1</text></g>
<g id="PLA2G12B"><use href="#g" x="1445" y="1011"/><text x="1445" y="1011">PLA2G12B</text></g>
<g id="PLA2G1B"><use href="#g" x="1491" y="1005"/><text x="1491" y="1005">PLA2G1B</text></g>
<g id="PLA2G2A"><use href="#g" x="1526" y="996"/><text x="1526" y="996">PLA2G2A</text></g>
<g id="PLA2G4C"><use href="#g" x="1549" y="1022"/><text x="1549" y="1022">PLA2G4C</text></g>
<g id="PLA2G4E"><use href="#g" x="1582" y="1037"/><text x="1582" y="1037">PLA2G4E</text></g>
<g id="PLA2G4B"><use href="#g" x="1558" y="1057"/><text x="1558" y="1057">LOC100137047-PLA2G4B</text></g>
<g id="PLA2G4F"><use href="#g" x="1405" y="1051"/><text x="1405" y="1051">PLA2G4F</text></g>
<g id="PLA2G3"><use href="#g" x="1563" y="1090"/><text x="1563" y="1090">PLA2G3</text></g>
<g id="PLA2G2D"><use href="#g" x="1526" y="1100"/><text x="1526" y="1100">PLA2G2D</text></g>
<g id="PLA2G6"><use href="#g" x="1406" y="1104"/><text x="1406" y="1104">PLA2G6</text></g>
<g id="PLA2G2F"><use href="#g" x="1563" y="1126"/><text x="1563" y="1126">PLA2G2F</text></g>
<g id="PLA2G2E"><use href="#g" x="1434" y="1135"/><text x="1434" y="1135">PLA2G2E</text></g>
<g id="PLA2G4D"><use href="#g" x="1483" y="1128"/><text x="1483" y="1128">PLA2G4D</text></g>
<g id="PLA2G12A"><use href="#g" x="1534" y="1142"/><text x="1534" y="1142">PLA2G12A</text></g>
<g id="PLA2G10"><use href="#g" x="1462" y="1161"/><text x="1462" y="1161">PLA2G10</text></g>
<g id="PLA2G5"><use href="#g" x="1503" y="1165"/><text x="1503" y="1165">PLA2G5</text></g>
<g id="PEMT"><use href="#g" x="1322" y="1067"/><text x="1322" y="1067">PEMT</text></g>
<g id="ACSL6"><use href="#g" x="1010" y="1348"/><text x="1010" y="1348">ACSL6</text></g>
<g id="ACSL5"><use href="#g" x="975" y="1380"/><text x="975" y="1380">ACSL5</text></g>
<g id="PFKFB1"><use href="#g" x="1035" y="1439"/><text x="1035" y="1439">PFKFB1</text></g>
<g id="PFKFB2"><use href="#g" x="1064" y="1498"/><text x="1064" y="1498">PFKFB2</text></g>
<g id="ASL"><use href="#g" x="704" y="874"/><text x="704" y="874">ASL</text></g>
<g id="ARG1"><use href="#g" x="672" y="915"/><text x="672" y="915">ARG1</text></g>
<g id="ARG2"><use href="#g" x="667" y="950"/><text x="667" y="950">ARG2</text></g>
<g id="FH"><use href="#g" x="754" y="1051"/><text x="754" y="1051">FH</text></g>
<g id="ADSL"><use href="#g" x="261" y="832"/><text x="261" y="832">ADSL</text></g>
<g id="GPT2"><use href="#g" x="408" y="848"/><text x="408" y="848">GPT2</text></g>
<g id="BAAT"><use href="#g" x="360" y="861"/><text x="360" y="861">BAAT</text></g>
<g id="GPT"><use href="#g" x="420" y="888"/><text x="420" y="888">GPT</text></g>
<g id="SDHA"><use href="#g" x="272" y="925"/><text x="272" y="925">SDHA</text></g>
<g id="SDHC"><use href="#g" x="266" y="968"/><text x="266" y="968">SDHC</text></g>
<g id="SDHB"><use href="#g" x="279" y="1007"/><text x="279" y="1007">SDHB</text></g>
<g id="SDHD"><use href="#g" x="318" y="1025"/><text x="318" y="1025">SDHD</text></g>
<g id="CTH"><use href="#g" x="432" y="1043"/><text x="432" y="1043">CTH</text></g>
<g id="FAH"><use href="#g" x="770" y="1095"/><text x="770" y="1095">FAH</text></g>
<g id="GCLC"><use href="#g" x="435" y="1108"/><text x="435" y="1108">GCLC</text></g>
<g id="GCLM"><use href="#g" x="472" y="1138"/><text x="472" y="1138">GCLM</text></g>
<g id="PPT1"><use href="#g" x="238" y="1093"/><text x="238" y="1093">PPT1</text></g>
<g id="PPT2"><use href="#g" x="351" y="1176"/><text x="351" y="1176">PPT2</text></g>
<g id="NAGS"><use href="#g" x="473" y="1232"/><text x="473" y="1232">NAGS</text></g>
<g id="GCTG"><use href="#g" x="477" y="1301"/><text x="477" y="1301">GCTG</text></g>
<g id="PPCS"><use href="#g" x="650" y="1339"/><text x="650" y="1339">PPCS</text></g>
<g id="PPIG"><use href="#g" x="807" y="1365"/><text x="807" y="1365">PPIG</text></g>
<g id="CARS2"><use href="#g" x="857" y="1372"/><text x="857" y="1372">CARS2</text></g>
<g id="CARS"><use href="#g" x="876" y="1395"/><text x="876" y="1395">CARS</text></g>
<g id="FASN"><use href="#g" x="190" y="1406"/><text x="190" y="1406">FASN</text></g>
<g id="OLAH"><use href="#g" x="257" y="1442"/><text x="257" y="1442">OLAH</text></g>
<g id="ALOX12"><use href="#g" x="588" y="1393"/><text x="588" y="1393">ALOX12</text></g>
<g id="ALOX5"><use href="#g" x="555" y="1446"/><text x="555" y="1446">ALOX5</text></g>
<g id="ALOX15B"><use href="#g" x="484" y="1497"/><text x="484" y="1497">ALOX15B</text></g>
<g id="ALOX15"><use href="#g" x="494" y="1535"/><text x="494" y="1535">ALOX15</text></g>
<g id="PTGS1"><use href="#g" x="558" y="1571"/><text x="558" y="1571">PTGS1</text></g>
<g id="PTGS2"><use href="#g" x="565" y="1623"/><text x="565" y="1623">PTGS2</text></g>
</g>
<g id="enzymes">
<g id="e1"><use href="#e" x="833" y="62"/><text x="833" y="56">Carnitine<tspan x="833" dy="13">O-octanoyltransferase</tspan></text></g>
<g id="e2"><use href="#e" x="217" y="134"/><text x="217" y="128">Tryptophan<tspan x="217" dy="13">5-monooxygenase</tspan></text></g>
<g id="e3"><use href="#e" x="357" y="134"/><text x="357" y="128">Aromatic-L-amino-acid<tspan x="357" dy="13">decarboxylase</tspan></text></g>
<g id="e4"><use href="#e" x="141" y="274"/><text x="141" y="268">Tryptophan<tspan x="141" dy="13">2,3-dioxygenase</tspan></text></g>
<g id="e5"><use href="#e" x="428" y="277"/><text x="428" y="277">Tryptophan--tRNA ligase</text></g>
<g id="e6"><use href="#e" x="634" y="132"/><text x="634" y="132">D-aspartate oxidase</text></g>
<g id="e7"><use href="#e" x="805" y="131"/><text x="805" y="131">Citrate (Si)-synthase</text></g>
<g id="e8"><use href="#e" x="605" y="218"/><text x="605" y="212">Dihydrolipoyllysine-residue<tspan x="605" dy="13">succinyltransferase</tspan></text></g>
<g id="e9"><use href="#e" x="570" y="250"/><text x="570" y="244">Dihydrolipoyl<tspan x="570" dy="13">dehydrogenase</tspan></text></g>
<g id="e10"><use href="#e" x="805" y="270"/><text x="805" y="270">Citrate (pro-3S)-lyase</text></g>
<g id="e11"><use href="#e" x="719" y="359"/><text x="719" y="359">Glutamate decarboxylase</text></g>
<g id="e12"><use href="#e" x="607" y="374"/><text x="607" y="361">Oxoglutarate<tspan x="607" dy="13">dehydrogenase</tspan><tspan x="607" dy="13">(succinyl-transferring)</tspan></text></g>
<g id="e13"><use href="#e" x="785" y="407"/><text x="785" y="401">Sulfinoalanine<tspan x="785" dy="13">decarboxylase</tspan></text></g>
<g id="e14"><use href="#e" x="853" y="489"/><text x="853" y="483">2-hydroxyglutarate<tspan x="853" dy="13">dehydrogenase</tspan></text></g>
<g id="e15"><use href="#e" x="848" y="556"/><text x="848" y="550">Isocitrate dehydrogenase<tspan x="848" dy="13">(NADP(+))</tspan></text></g>
<g id="e16"><use href="#e" x="322" y="439"/><text x="322" y="439">L-amino-acid oxidase</text></g>
<g id="e17"><use href="#e" x="250" y="558"/><text x="250" y="558">Gamma-glutamyltransferase</text></g>
<g id="e18"><use href="#e" x="386" y="561"/><text x="386" y="555">Peptide-aspartate<tspan x="386" dy="13">beta-dioxygenase</tspan></text></g>
<g id="e19"><use href="#e" x="545" y="568"/><text x="545" y="562">Glutamate dehydrogenase<tspan x="545" dy="13">(NAD(P)(+))</tspan></text></g>
<g id="e20"><use href="#e" x="444" y="682"/><text x="444" y="676">(R)-3-amino-2-methylpropionate--pyruvate<tspan x="444" dy="13">transaminase</tspan></text></g>
<g id="e21"><use href="#e" x="221" y="784"/><text x="221" y="784">Palmitoyl-CoA hydrolase</text></g>
<g id="e22"><use href="#e" x="668" y="755"/><text x="668" y="755">Aspartate transaminase</text></g>
<g id="e23"><use href="#e" x="596" y="775"/><text x="596" y="769">Bile acid-CoA:amino acid<tspan x="596" dy="13">N-acyltransferase</tspan></text></g>
<g id="e24"><use href="#e" x="472" y="812"/><text x="472" y="812">Alanine transaminase</text></g>
<g id="e25"><use href="#e" x="1244" y="70"/><text x="1244" y="64">Carnitine<tspan x="1244" dy="13">O-palmitoyltransferase</tspan></text></g>
<g id="e26"><use href="#e" x="1251" y="200"/><text x="1251" y="200">Beta-galactosidase</text></g>
<g id="e27"><use href="#e" x="1369" y="212"/><text x="1369" y="212">Hexokinase</text></g>
<g id="e28"><use href="#e" x="922" y="170"/><text x="930" y="170">ATP citrate synthase</text></g>
<g id="e29"><use href="#e" x="1049" y="251"/><text x="1049" y="251">Aconitate hydratase</text></g>
<g id="e30"><use href="#e" x="1384" y="329"/><text x="1384" y="329">Aldose 1-epimerase</text></g>
<g id="e31"><use href="#e" x="1232" y="374"/><text x="1232" y="374">Glucokinase</text></g>
<g id="e32"><use href="#e" x="1057" y="405"/><text x="1057" y="405">Glucose 1-dehydrogenase</text></g>
<g id="e33"><use href="#e" x="924" y="469"/><text x="924" y="463">Isocitrate dehydrogenase<tspan x="924" dy="13">(NAD(+))</tspan></text></g>
<g id="e34"><use href="#e" x="1254" y="472"/><text x="1254" y="472">Glucose-6-phosphatase</text></g>
<g id="e35"><use href="#e" x="1491" y="596"/><text x="1491" y="590">Phosphatidylcholine--retinol<tspan x="1491" dy="13">O-acyltransferase</tspan></text></g>
<g id="e36"><use href="#e" x="1317" y="622"/><text x="1317" y="622">Phospholipase D</text></g>
<g id="e37"><use href="#e" x="1372" y="655"/><text x="1372" y="649">Phosphatidylcholine--sterol<tspan x="1372" dy="13">O-acyltransferase</tspan></text></g>
<g id="e38"><use href="#e" x="1075" y="749"/><text x="1075" y="749">Arginine--tRNA ligase</text></g>
<g id="e39"><use href="#e" x="1198" y="772"/><text x="1198" y="759">Transferases for other<tspan x="1198" dy="13">substituted phosphate</tspan><tspan x="1198" dy="13">groups</tspan></text></g>
<g id="e40"><use href="#e" x="938" y="794"/><text x="938" y="794">Glycine amidinotransferase</text></g>
<g id="e41"><use href="#e" x="1561" y="857"/><text x="1561" y="851">Diacylglycerol<tspan x="1561" dy="13">cholinephosphotransferase</tspan></text></g>
<g id="e42"><use href="#e" x="1669" y="900"/><text x="1669" y="900">Lysophospholipase</text></g>
<g id="e43"><use href="#e" x="1140" y="916"/><text x="1140" y="916">Nitric-oxide synthase</text></g>
<g id="e44"><use href="#e" x="1310" y="1004"/><text x="1310" y="998">Phosphatidylethanolamine<tspan x="1310" dy="13">N-methyltransferase</tspan></text></g>
<g id="e45"><use href="#e" x="1470" y="1070"/><text x="1470" y="1070">Phospholipase A(2)</text></g>
<g id="e46"><use href="#e" x="942" y="1079"/><text x="942" y="1073">Cystathionine<tspan x="942" dy="13">beta-synthase</tspan></text></g>
<g id="e47"><use href="#e" x="1048" y="1129"/><text x="1048" y="1129">Arginine decarboxylase</text></g>
<g id="e48"><use href="#e" x="1141" y="1142"/><text x="1141" y="1129">[Protein<tspan x="1141" dy="13">ADP-ribosylarginine]</tspan><tspan x="1141" dy="13">hydrolase</tspan></text></g>
<g id="e49"><use href="#e" x="951" y="1217"/><text x="951" y="1211">Membrane alanyl<tspan x="951" dy="13">aminopeptidase</tspan></text></g>
<g id="e50"><use href="#e" x="872" y="1247"/><text x="872" y="1247">Cysteine dioxygenase</text></g>
<g id="e51"><use href="#e" x="942" y="1373"/><text x="942" y="1367">Long-chain-fatty-acid--CoA<tspan x="942" dy="13">ligase</tspan></text></g>
<g id="e52"><use href="#e" x="928" y="1430"/><text x="928" y="1430">Ferroxidase</text></g>
<g id="e53"><use href="#e" x="1031" y="1473"/><text x="1031" y="1473">Acting on ester bonds</text></g>
<g id="e54"><use href="#e" x="771" y="887"/><text x="771" y="887">Argininosuccinate lyase</text></g>
<g id="e55"><use href="#e" x="732" y="920"/><text x="732" y="920">Arginase</text></g>
<g id="e56"><use href="#e" x="811" y="992"/><text x="811" y="992">Acid--thiol ligases</text></g>
<g id="e57"><use href="#e" x="697" y="1018"/><text x="697" y="1018">Fumarate hydratase</text></g>
<g id="e58"><use href="#e" x="342" y="843"/><text x="342" y="843">Adenylosuccinate lyase</text></g>
<g id="e59"><use href="#e" x="344" y="953"/><text x="344" y="947">Succinate dehydrogenase<tspan x="344" dy="13">(ubiquinone)</tspan></text></g>
<g id="e60"><use href="#e" x="503" y="1008"/><text x="503" y="1008">Cystathionine gamma-lyase</text></g>
<g id="e61"><use href="#e" x="510" y="1066"/><text x="510" y="1066">Glutamate--cysteine ligase</text></g>
<g id="e62"><use href="#e" x="701" y="1068"/><text x="701" y="1068">Fumarylacetoacetase</text></g>
<g id="e63"><use href="#e" x="303" y="1124"/><text x="303" y="1124">Palmitoyl-protein hydrolase</text></g>
<g id="e64"><use href="#e" x="545" y="1201"/><text x="545" y="1195">Amino-acid<tspan x="545" dy="13">N-acetyltransferase</tspan></text></g>
<g id="e65"><use href="#e" x="672" y="1235"/><text x="672" y="1229">Phosphopantothenate--cysteine<tspan x="672" dy="13">ligase</tspan></text></g>
<g id="e66"><use href="#e" x="532" y="1244"/><text x="532" y="1244">Gamma-glutamylcyclotransferase</text></g>
<g id="e67"><use href="#e" x="850" y="1342"/><text x="850" y="1342">Cysteine--tRNA ligase</text></g>
<g id="e68"><use href="#e" x="206" y="1343"/><text x="206" y="1343">Fatty-acid synthase</text></g>
<g id="e69"><use href="#e" x="249" y="1371"/><text x="249" y="1365">Oleoyl-[acyl-carrier-protein]<tspan x="249" dy="13">hydrolase</tspan></text></g>
<g id="e70"><use href="#e" x="678" y="1446"/><text x="678" y="1440">Arachidonate<tspan x="678" dy="13">12-lipoxygenase</tspan></text></g>
<g id="e71"><use href="#e" x="595" y="1469"/><text x="595" y="1463">Arachidonate<tspan x="595" dy="13">5-lipoxygenase</tspan></text></g>
<g id="e72"><use href="#e" x="544" y="1522"/><text x="544" y="1516">Arachidonate<tspan x="544" dy="13">15-lipoxygenase</tspan></text></g>
<g id="e73"><use href="#e" x="607" y="1598"/><text x="607" y="1592">Prostaglandin-endoperoxide<tspan x="607" dy="13">synthase</tspan></text></g>
</g>
<g id="metabolites">
<g><use href="#m" x="310" y="149"/><text x="310" y="149">Tryptamine</text></g>
<g><use href="#m" x="249" y="164"/><text x="249" y="164">5-Hydroxy-L-tryptophan</text></g>
<g><use href="#m" x="389" y="218"/><text x="389" y="218">Tryptophanyl-tRNA(Trp)</text></g>
<g><use href="#m" x="179" y="233"/><text x="179" y="233">Formylkynurenine</text></g>
<g><use href="#m" x="362" y="351"/><text x="362" y="351">tRNA(Trp)</text></g>
<g><use href="#m" x="642" y="243"/><text x="642" y="243">Succinyl-CoA</text></g>
<g><use href="#m" x="762" y="178"/><text x="762" y="178">CoA</text></g>
<g><use href="#m" x="855" y="163"/><text x="855" y="163">Acetyl-CoA</text></g>
<g><use href="#m" x="777" y="335"/><text x="777" y="335">Oxaloacetate</text></g>
<g><use href="#m" x="568" y="400"/><text x="568" y="400">Thiamin diphosphate</text></g>
<g><use href="#m" x="733" y="406"/><text x="733" y="406">L-Cysteate</text></g>
<g><use href="#m" x="550" y="446"/><text x="550" y="446">3-Carboxy-1-hydroxypropyl-ThPP</text></g>
<g><use href="#m" x="690" y="482"/><text x="690" y="482">CO2</text></g>
<g><use href="#m" x="798" y="518"/><text x="798" y="518">2-Hydroxyglutarate</text></g>
<g><use href="#m" x="668" y="523"/><text x="668" y="523">L-Aspartate</text></g>
<g><use href="#m" x="791" y="581"/><text x="791" y="581">Oxalosuccinate</text></g>
<g><use href="#m" x="609" y="592"/><text x="609" y="592">deoxycholoyl-CoA</text></g>
<g><use href="#m" x="716" y="619"/><text x="716" y="619">Taurodeoxycholate</text></g>
<g><use href="#m" x="735" y="648"/><text x="735" y="648">Chenodeoxycholoyl-CoA</text></g>
<g><use href="#m" x="789" y="685"/><text x="789" y="685">Taurochenodeoxycholate</text></g>
<g><use href="#m" x="606" y="720"/><text x="606" y="720">L-Glutamate</text></g>
<g><use href="#m" x="719" y="739"/><text x="719" y="739">Choloyl-CoA</text></g>
<g><use href="#m" x="779" y="743"/><text x="779" y="743">Taurolithocholate</text></g>
<g><use href="#m" x="794" y="763"/><text x="794" y="763">3alpha-Hydroxy-5beta-cholanate</text></g>
<g><use href="#m" x="298" y="486"/><text x="298" y="486">Indolepyruvate</text></g>
<g><use href="#m" x="349" y="597"/><text x="349" y="597">5-Glutamyl-taurine</text></g>
<g><use href="#m" x="394" y="619"/><text x="394" y="613">Peptide<tspan x="394" dy="13">3-hydroxy-L-aspartate</tspan></text></g>
<g><use href="#m" x="477" y="651"/><text x="477" y="651">2-Methyl-3-oxopropanoate</text></g>
<g><use href="#m" x="395" y="660"/><text x="395" y="660">Peptide L-aspartate</text></g>
<g><use href="#m" x="511" y="702"/><text x="511" y="702">(R)-3-Amino-2-methylpropanoate</text></g>
<g><use href="#m" x="452" y="725"/><text x="452" y="725">NH3</text></g>
<g><use href="#m" x="451" y="764"/><text x="451" y="764">Succinate</text></g>
<g><use href="#m" x="515" y="784"/><text x="515" y="784">L-Alanine</text></g>
<g><use href="#m" x="64" y="686"/><text x="64" y="686">Stearoyl-CoA</text></g>
<g><use href="#m" x="396" y="815"/><text x="396" y="815">N6-(1,2-Dicarboxyethyl)-AMP</text></g>
<g><use href="#m" x="1167" y="53"/><text x="1167" y="53">Acyl-CoA</text></g>
<g><use href="#m" x="1110" y="73"/><text x="1110" y="73">acylcarnitine</text></g>
<g><use href="#m" x="888" y="87"/><text x="872" y="87">L-Octanoylcarnitine</text></g>
<g><use href="#m" x="939" y="107"/><text x="939" y="107">Octanoyl-CoA</text></g>
<g><use href="#m" x="1293" y="172"/><text x="1293" y="172">3-Keto-beta-D-galactose</text></g>
<g><use href="#m" x="1049" y="148"/><text x="1049" y="148">cis-Aconitate</text></g>
<g><use href="#m" x="1198" y="248"/><text x="1198" y="248">3-Ketolactose</text></g>
<g><use href="#m" x="911" y="310"/><text x="911" y="310">Acetate</text></g>
<g><use href="#m" x="1287" y="373"/><text x="1287" y="367">beta-D-Glucose<tspan x="1287" dy="13">6-phosphate</tspan></text></g>
<g><use href="#m" x="1358" y="389"/><text x="1358" y="389">alpha-D-Glucose</text></g>
<g><use href="#m" x="888" y="389"/><text x="888" y="389">Isocitrate</text></g>
<g><use href="#m" x="1095" y="445"/><text x="1095" y="445">D-Glucono-1,5-lactone</text></g>
<g><use href="#m" x="1450" y="630"/><text x="1450" y="630">Retinol-(cellular-retinol-binding-protein)</text></g>
<g><use href="#m" x="1506" y="660"/><text x="1506" y="660">Retinyl-ester-(cellular-retinol-binding-protein)</text></g>
<g><use href="#m" x="1278" y="673"/><text x="1278" y="673">Phosphatidate</text></g>
<g><use href="#m" x="1339" y="696"/><text x="1339" y="696">1-acyl-2-lyso-phosphatidylcholine</text></g>
<g><use href="#m" x="1376" y="722"/><text x="1376" y="722">Cholesterol ester</text></g>
<g><use href="#m" x="1497" y="733"/><text x="1497" y="733">Sterol</text></g>
<g><use href="#m" x="1544" y="741"/><text x="1544" y="741">Steryl ester</text></g>
<g><use href="#m" x="1635" y="744"/><text x="1635" y="744">sn-glycero-3-Phosphocholine</text></g>
<g><use href="#m" x="1023" y="774"/><text x="1023" y="774">tRNA(Arg)</text></g>
<g><use href="#m" x="1457" y="765"/><text x="1457" y="765">2-Acyl-sn-glycero-3-phosphocholine</text></g>
<g><use href="#m" x="1253" y="789"/><text x="1253" y="789">Choline</text></g>
<g><use href="#m" x="1089" y="800"/><text x="1089" y="800">L-Arginyl-tRNA(Arg)</text></g>
<g><use href="#m" x="1532" y="813"/><text x="1532" y="813">1,2-Diacyl-sn-glycerol</text></g>
<g><use href="#m" x="1335" y="828"/><text x="1335" y="828">Cholesterol</text></g>
<g><use href="#m" x="1271" y="844"/><text x="1271" y="844">Phosphatidylserine</text></g>
<g><use href="#m" x="1427" y="898"/><text x="1427" y="898">Linoleate</text></g>
<g><use href="#m" x="1371" y="963"/><text x="1371" y="963">Phosphatidyl-N-dimethylethanolamine</text></g>
<g><use href="#m" x="980" y="841"/><text x="980" y="841">Guanidinoacetate</text></g>
<g><use href="#m" x="832" y="835"/><text x="832" y="835">Glycine</text></g>
<g><use href="#m" x="872" y="879"/><text x="872" y="879">L-Ornithine</text></g>
<g><use href="#m" x="890" y="931"/><text x="890" y="931">N-(L-Arginino)succinate</text></g>
<g><use href="#m" x="789" y="954"/><text x="789" y="954">Urea</text></g>
<g><use href="#m" x="1081" y="939"/><text x="1081" y="939">L-Serine</text></g>
<g><use href="#m" x="1141" y="982"/><text x="1141" y="982">L-Citrulline</text></g>
<g><use href="#m" x="1117" y="1026"/><text x="1117" y="1026">N(omega)-(ADP-D-ribosyl)-L-arginine</text></g>
<g><use href="#m" x="1091" y="1084"/><text x="1091" y="1084">ADPribose</text></g>
<g><use href="#m" x="1182" y="1057"/><text x="1182" y="1057">Nicotinamide</text></g>
<g><use href="#m" x="1170" y="1108"/><text x="1170" y="1108">NAD+</text></g>
<g><use href="#m" x="999" y="1122"/><text x="999" y="1122">Agmatine</text></g>
<g><use href="#m" x="923" y="1167"/><text x="923" y="1167">Cys-Gly</text></g>
<g><use href="#m" x="760" y="998"/><text x="760" y="998">Mercaptopyruvate</text></g>
<g><use href="#m" x="564" y="872"/><text x="564" y="872">Pyruvate</text></g>
<g><use href="#m" x="471" y="967"/><text x="471" y="967">L-Cystathionine</text></g>
<g><use href="#m" x="561" y="989"/><text x="561" y="989">(S)-Malate</text></g>
<g><use href="#m" x="534" y="1019"/><text x="534" y="1019">2-Oxobutanoate</text></g>
<g><use href="#m" x="577" y="1077"/><text x="577" y="1077">gamma-L-Glutamyl-L-cysteine</text></g>
<g><use href="#m" x="611" y="1096"/><text x="611" y="1096">4-Fumarylacetoacetate</text></g>
<g><use href="#m" x="654" y="1098"/><text x="654" y="1098">Acetoacetate</text></g>
<g><use href="#m" x="321" y="1056"/><text x="321" y="1056">Palmitoyl-CoA</text></g>
<g><use href="#m" x="160" y="1148"/><text x="160" y="1148">Palmitoyl-protein</text></g>
<g><use href="#m" x="172" y="1207"/><text x="172" y="1207">Protein</text></g>
<g><use href="#m" x="754" y="1166"/><text x="754" y="1166">(R)-4'-Phosphopantothenoyl-L-cysteine</text></g>
<g><use href="#m" x="860" y="1224"/><text x="860" y="1224">3-Sulfino-L-alanine</text></g>
<g><use href="#m" x="579" y="1234"/><text x="579" y="1234">5-Oxoproline</text></g>
<g><use href="#m" x="616" y="1264"/><text x="616" y="1264">N-acetyl-L-cysteine</text></g>
<g><use href="#m" x="713" y="1263"/><text x="713" y="1263">D-4'-Phosphopantothenate</text></g>
<g><use href="#m" x="833" y="1306"/><text x="833" y="1306">L-Cysteinyl-tRNA(Cys)</text></g>
<g><use href="#m" x="745" y="1320"/><text x="745" y="1320">tRNA(Cys)</text></g>
<g><use href="#m" x="784" y="1343"/><text x="784" y="1343">L-Cystine</text></g>
<g><use href="#m" x="182" y="1291"/><text x="182" y="1291">Hexadecanoyl-[acp]</text></g>
<g><use href="#m" x="609" y="1542"/><text x="609" y="1542">Prostaglandin G2</text></g>
<g><use href="#m" x="821" y="1432"/><text x="821" y="1432">Arachidonyl-CoA</text></g>
<g><use href="#m" x="973" y="1463"/><text x="973" y="1463">Anandamide</text></g>
<g><use href="#m" x="976" y="1487"/><text x="976" y="1487">Ethanolamine</text></g>
<g><use href="#m" x="722" y="1443"/><text x="722" y="1443">12(S)-HPETE</text></g>
<g><use href="#m" x="656" y="1470"/><text x="656" y="1470">5(S)-HPETE</text></g>
<g><use href="#m" x="606" y="1499"/><text x="606" y="1499">15(S)-HPETE</text></g>
<g><use href="#m" x="816" y="1503"/><text x="816" y="1503">8,9-EET</text></g>
<g><use href="#m" x="733" y="1523"/><text x="733" y="1523">9(S)-HETE</text></g>
<g><use href="#m" x="880" y="1521"/><text x="880" y="1521">15-EET</text></g>
<g><use href="#m" x="671" y="1533"/><text x="671" y="1533">17-HETE</text></g>
<g><use href="#m" x="733" y="1557"/><text x="733" y="1557">5,6-EET</text></g>
<g><use href="#m" x="950" y="1511"/><text x="950" y="1511">13-HETE</text></g>
<g><use href="#m" x="1007" y="1538"/><text x="1007" y="1538">20-HETE</text></g>
<g><use href="#m" x="977" y="1557"/><text x="977" y="1557">7-HETE</text></g>
<g><use href="#m" x="938" y="1572"/><text x="938" y="1572">18-HETE</text></g>
<g><use href="#m" x="657" y="1602"/><text x="657" y="1602">10-HETE</text></g>
<g><use href="#m" x="947" y="1607"/><text x="947" y="1607">8-hydroxyicosatetraenoate</text></g>
<g><use href="#m" x="866" y="1623"/><text x="866" y="1623">11,12-EET</text></g>
<g><use href="#m" x="677" y="1630"/><text x="677" y="1630">16(R)-HETE</text></g>
<g><use href="#m" x="731" y="1632"/><text x="731" y="1632">19(S)-HETE</text></g>
</g>
<g id="hubs">
<g id="LTrp"><use href="#B" x="306" y="331"/><text x="306" y="331">L-Tryptophan</text></g>
<g id="DAsp"><use href="#B" x="714" y="133"/><text x="714" y="133">D-Aspartate</text></g>
<g id="OG"><use href="#B" x="626" y="547"/><text x="626" y="547">2-Oxoglutarate</text></g>
<g id="TC"><use href="#B" x="715" y="673"/><text x="715" y="673">Taurocholate</text></g>
<g id="Octa"><use href="#B" x="41" y="741"/><text x="49" y="741">Octadecanoic acid</text></g>
<g id="LCar"><use href="#B" x="968" y="70"/><text x="968" y="70">L-Carnitine</text></g>
<g id="PC"><use href="#B" x="1354" y="884"/><text x="1354" y="884">Phosphatidylcholine</text></g>
<g id="LArg"><use href="#B" x="997" y="947"/><text x="997" y="947">L-Arginine</text></g>
<g id="LCys"><use href="#B" x="708" y="1109"/><text x="708" y="1109">L-Cysteine</text></g>
<g id="Arach"><use href="#B" x="827" y="1473"/><text x="827" y="1473">Arachidonate</text></g>
<g><use href="#t" x="633" y="630"/><text x="633" y="630">Taurine</text></g>
<g><use href="#t" x="783" y="815"/><text x="783" y="815">Glycocholate</text></g>
<g><use href="#t" x="918" y="196"/><text x="918" y="196">Citrate</text></g>
<g><use href="#t" x="1215" y="332"/><text x="1215" y="332">beta-D-Glucose</text></g>
<g><use href="#t" x="1509" y="879"/><text x="1509" y="879">1-Acyl-sn-glycero-3-phosphocholine</text></g>
<g><use href="#t" x="631" y="925"/><text x="631" y="925">Fumarate</text></g>
<g><use href="#t" x="304" y="1185"/><text x="304" y="1185">Hexadecanoic acid</text></g>
</g>
<g id="reactions">
<g><use href="#r" x="874" y="133"/><text class="ro" x="874" y="133">R03778</text></g>
<g><use href="#r" x="260" y="227"/><text class="ro" x="260" y="227">R01814</text></g>
<g><use href="#r" x="325" y="220"/><text class="ro" x="325" y="220">R00685</text></g>
<g><use href="#r" x="219" y="292"/><text class="ro" x="219" y="292">R00678</text></g>
<g><use href="#r" x="361" y="285"/><text class="ro" x="361" y="285">R03664</text></g>
<g><use href="#r" x="720" y="214"/><text class="ro" x="720" y="214">R00359</text></g>
<g><use href="#r" x="812" y="219"/><text class="ro" x="812" y="219">R00351</text></g>
<g><use href="#r" x="841" y="227"/><text class="ro" x="841" y="227">R00352</text></g>
<g><use href="#r" x="865" y="293"/><text class="rp" x="865" y="293">R00362</text></g>
<g><use href="#r" x="646" y="314"/><text class="rp" x="646" y="314">RE0361</text></g>
<g><use href="#r" x="617" y="453"/><text class="ro" x="617" y="453">R00621</text></g>
<g><use href="#r" x="709" y="465"/><text class="ro" x="709" y="465">R01682</text></g>
<g><use href="#r" x="778" y="467"/><text class="ro" x="778" y="467">R00709</text></g>
<g><use href="#r" x="730" y="507"/><text class="rp" x="730" y="507">R03534</text></g>
<g><use href="#r" x="738" y="547"/><text class="ro" x="738" y="547">R00267</text></g>
<g><use href="#r" x="689" y="585"/><text class="rp" x="689" y="585">R00355</text></g>
<g><use href="#r" x="572" y="615"/><text class="rp" x="572" y="615">R00248</text></g>
<g><use href="#r" x="597" y="626"/><text class="rp" x="597" y="626">R00243</text></g>
<g><use href="#r" x="611" y="680"/><text class="rp" x="611" y="680">RE1846</text></g>
<g><use href="#r" x="682" y="693"/><text class="rp" x="682" y="693">RE1845</text></g>
<g><use href="#r" x="651" y="712"/><text class="ro" x="651" y="712">R03722</text></g>
<g><use href="#r" x="722" y="788"/><text class="rp" x="722" y="788">RE2637</text></g>
<g><use href="#r" x="722" y="815"/><text class="ro" x="722" y="815">R03719</text></g>
<g><use href="#r" x="368" y="512"/><text class="ro" x="368" y="512">R00677</text></g>
<g><use href="#r" x="430" y="592"/><text class="rp" x="430" y="592">R01687</text></g>
<g><use href="#r" x="472" y="623"/><text class="ro" x="472" y="623">R04073</text></g>
<g><use href="#r" x="546" y="645"/><text class="rp" x="546" y="645">R02048</text></g>
<g><use href="#r" x="552" y="731"/><text class="rp" x="552" y="731">R00258</text></g>
<g><use href="#r" x="118" y="741"/><text class="rp" x="118" y="741">RE0344</text></g>
<g><use href="#r" x="1159" y="122"/><text class="rp" x="1159" y="122">RE2978</text></g>
<g><use href="#r" x="996" y="202"/><text class="rp" x="996" y="202">R01325</text></g>
<g><use href="#r" x="1310" y="252"/><text class="ro" x="1310" y="252">R04783</text></g>
<g><use href="#r" x="1356" y="277"/><text class="ro" x="1356" y="277">R01600</text></g>
<g><use href="#r" x="963" y="298"/><text class="rp" x="963" y="298">R01324</text></g>
<g><use href="#r" x="1302" y="339"/><text class="rp" x="1302" y="339">R01602</text></g>
<g><use href="#r" x="1111" y="369"/><text class="rp" x="1111" y="369">R01521</text></g>
<g><use href="#r" x="1133" y="398"/><text class="rp" x="1133" y="398">R01520</text></g>
<g><use href="#r" x="1243" y="422"/><text class="rp" x="1243" y="422">RE0354</text></g>
<g><use href="#r" x="1441" y="712"/><text class="rp" x="1441" y="712">R04514</text></g>
<g><use href="#r" x="1311" y="744"/><text class="ro" x="1311" y="744">R01318</text></g>
<g><use href="#r" x="1356" y="778"/><text class="rp" x="1356" y="778">RE3330</text></g>
<g><use href="#r" x="1393" y="800"/><text class="rp" x="1393" y="800">RE3329</text></g>
<g><use href="#r" x="1438" y="803"/><text class="rp" x="1438" y="803">R02114</text></g>
<g><use href="#r" x="1609" y="819"/><text class="ro" x="1609" y="819">R02746</text></g>
<g><use href="#r" x="1468" y="855"/><text class="ro" x="1468" y="855">R01321</text></g>
<g><use href="#r" x="1210" y="862"/><text class="rp" x="1210" y="862">RE3299</text></g>
<g><use href="#r" x="1317" y="937"/><text class="ro" x="1317" y="937">RE3511</text></g>
<g><use href="#r" x="1432" y="947"/><text class="ro" x="1432" y="947">R07064</text></g>
<g><use href="#r" x="1461" y="950"/><text class="ro" x="1461" y="950">R01315</text></g>
<g><use href="#r" x="928" y="872"/><text class="rp" x="928" y="872">R00565</text></g>
<g><use href="#r" x="1036" y="845"/><text class="ro" x="1036" y="845">R03646</text></g>
<g><use href="#r" x="1052" y="916"/><text class="ro" x="1052" y="916">R00558</text></g>
<g><use href="#r" x="1074" y="969"/><text class="ro" x="1074" y="969">R00557</text></g>
<g><use href="#r" x="902" y="1026"/><text class="ro" x="902" y="1026">R00891</text></g>
<g><use href="#r" x="1053" y="1038"/><text class="rp" x="1053" y="1038">R01885</text></g>
<g><use href="#r" x="1145" y="1074"/><text class="rp" x="1145" y="1074">R00555</text></g>
<g><use href="#r" x="1006" y="1054"/><text class="ro" x="1006" y="1054">R00566</text></g>
<g><use href="#r" x="816" y="931"/><text class="ro" x="816" y="931">R01086</text></g>
<g><use href="#r" x="856" y="948"/><text class="ro" x="856" y="948">R00551</text></g>
<g><use href="#r" x="708" y="953"/><text class="rp" x="708" y="953">R00896</text></g>
<g><use href="#r" x="605" y="967"/><text class="ro" x="605" y="967">R00894</text></g>
<g><use href="#r" x="637" y="984"/><text class="rp" x="637" y="984">R01082</text></g>
<g><use href="#r" x="600" y="1007"/><text class="ro" x="600" y="1007">R00782</text></g>
<g><use href="#r" x="642" y="1025"/><text class="ro" x="642" y="1025">R01364</text></g>
<g><use href="#r" x="545" y="939"/><text class="ro" x="545" y="939">R01001</text></g>
<g><use href="#r" x="467" y="864"/><text class="rp" x="467" y="864">R01083</text></g>
<g><use href="#r" x="472" y="896"/><text class="rp" x="472" y="896">R02164</text></g>
<g><use href="#r" x="385" y="1085"/><text class="ro" x="385" y="1085">R01274</text></g>
<g><use href="#r" x="232" y="1166"/><text class="rp" x="232" y="1166">R01705</text></g>
<g><use href="#r" x="255" y="1283"/><text class="ro" x="255" y="1283">R01706</text></g>
<g><use href="#r" x="602" y="1161"/><text class="ro" x="602" y="1161">R02743</text></g>
<g><use href="#r" x="637" y="1186"/><text class="rp" x="637" y="1186">RE2223</text></g>
<g><use href="#r" x="846" y="1156"/><text class="ro" x="846" y="1156">R00899</text></g>
<g><use href="#r" x="799" y="1182"/><text class="ro" x="799" y="1182">R00893</text></g>
<g><use href="#r" x="691" y="1191"/><text class="ro" x="691" y="1191">R04230</text></g>
<g><use href="#r" x="717" y="1202"/><text class="ro" x="717" y="1202">R04231</text></g>
<g><use href="#r" x="772" y="1250"/><text class="ro" x="772" y="1250">R03650</text></g>
<g><use href="#r" x="814" y="1271"/><text class="ro" x="814" y="1271">RE2811</text></g>
<g><use href="#r" x="883" y="1448"/><text class="rp" x="883" y="1448">RE0324</text></g>
<g><use href="#r" x="925" y="1468"/><text class="rp" x="925" y="1468">RE1978</text></g>
<g><use href="#r" x="715" y="1477"/><text class="ro" x="715" y="1477">R01595</text></g>
<g><use href="#r" x="689" y="1487"/><text class="ro" x="689" y="1487">R01593</text></g>
<g><use href="#r" x="742" y="1490"/><text class="ro" x="742" y="1490">R01596</text></g>
<g><use href="#r" x="717" y="1505"/><text class="ro" x="717" y="1505">R01590</text></g>
<g><use href="#r" x="855" y="1520"/><text class="ro" x="855" y="1520">R07050</text></g>
<g><use href="#r" x="702" y="1554"/><text class="ro" x="702" y="1554">RE3042</text></g>
<g><use href="#r" x="779" y="1557"/><text class="ro" x="779" y="1557">RE3648</text></g>
<g><use href="#r" x="823" y="1540"/><text class="ro" x="823" y="1540">RE3647</text></g>
<g><use href="#r" x="843" y="1548"/><text class="ro" x="843" y="1548">RE3289</text></g>
<g><use href="#r" x="927" y="1534"/><text class="ro" x="927" y="1534">RE3652</text></g>
<g><use href="#r" x="977" y="1518"/><text class="ro" x="977" y="1518">R07041</text></g>
<g><use href="#r" x="710" y="1578"/><text class="ro" x="710" y="1578">RE3651</text></g>
<g><use href="#r" x="824" y="1569"/><text class="ro" x="824" y="1569">R07048</text></g>
<g><use href="#r" x="800" y="1581"/><text class="ro" x="800" y="1581">R07051</text></g>
<g><use href="#r" x="853" y="1579"/><text class="ro" x="853" y="1579">RE3649</text></g>
<g><use href="#r" x="886" y="1587"/><text class="ro" x="886" y="1587">RE3650</text></g>
<g><use href="#r" x="764" y="1588"/><text class="ro" x="764" y="1588">R07052</text></g>
<g><use href="#r" x="737" y="1603"/><text class="ro" x="737" y="1603">RE3654</text></g>
<g><use href="#r" x="833" y="1601"/><text class="ro" x="833" y="1601">RE3646</text></g>
<g><use href="#r" x="812" y="1605"/><text class="ro" x="812" y="1605">RE3287</text></g>
<g><use href="#r" x="780" y="1609"/><text class="ro" x="780" y="1609">RE3286</text></g>
<g><use href="#r" x="707" y="1612"/><text class="ro" x="707" y="1612">R07054</text></g>
<g><use href="#r" x="752" y="1618"/><text class="ro" x="752" y="1618">R07046</text></g>
<g><use href="#r" x="799" y="1623"/><text class="ro" x="799" y="1623">RE3288</text></g>
</g>
</svg>
